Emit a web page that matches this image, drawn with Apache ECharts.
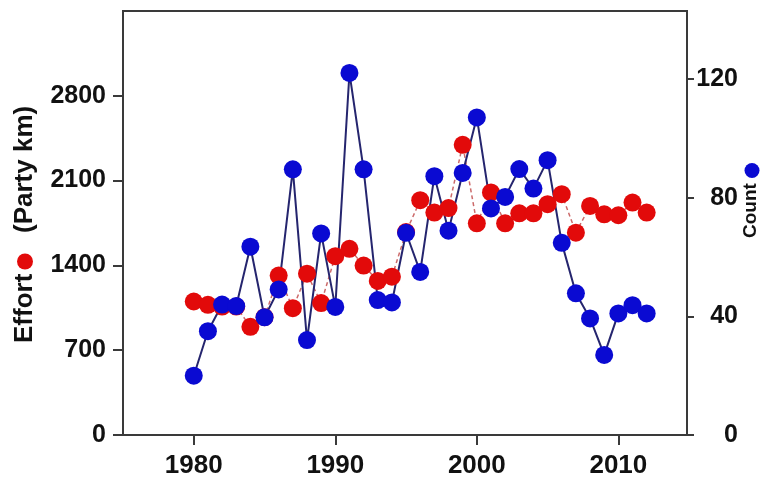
<!DOCTYPE html>
<html>
<head>
<meta charset="utf-8">
<script src="https://cdn.jsdelivr.net/npm/echarts@6/dist/echarts.min.js"></script>
<style>html,body{margin:0;padding:0;background:#fff}#c{width:766px;height:479px}</style>
</head>
<body>
<div id="c"></div>
<script>
const years = [1980,1981,1982,1983,1984,1985,1986,1987,1988,1989,1990,1991,1992,1993,1994,1995,1996,1997,1998,1999,2000,2001,2002,2003,2004,2005,2006,2007,2008,2009,2010,2011,2012];
const effort = [1102,1075,1060,1060,893,973,1316,1047,1332,1089,1476,1537,1399,1272,1307,1675,1938,1836,1873,2395,1747,2002,1747,1830,1830,1905,1988,1670,1891,1822,1814,1919,1836];
const count = [20,35,44,43.5,63.5,39.7,49.1,89.6,32,68,43.2,122.1,89.6,45.5,44.7,68.2,55,87.3,68.9,88.4,107.1,76.4,80.3,89.7,83.1,92.7,64.8,47.8,39.3,27,41,43.8,41];
const yearTicks = [1980,1990,2000,2010];
const effortTicks = [0,700,1400,2100,2800];
const countTicks = [0,40,80,120];

const chart = echarts.init(document.getElementById('c'), null, {renderer:'canvas'});
const axisColor = '#3a3a3a';
const plain = v => String(v);
const labelFont = {fontFamily:'Liberation Sans, Arial, sans-serif', fontWeight:'bold', color:'#111', formatter:plain};
chart.setOption({
  animation:false,
  backgroundColor:'#ffffff',
  grid:{left:123,right:79,top:11,bottom:44,show:true,borderColor:axisColor,borderWidth:2,backgroundColor:'transparent'},
  xAxis:{type:'value',min:1975,max:2014.85,
    axisLine:{show:true,onZero:false,lineStyle:{color:axisColor,width:2}},
    axisTick:{show:true,customValues:yearTicks,length:10,lineStyle:{color:axisColor,width:2}},
    axisLabel:Object.assign({customValues:yearTicks,fontSize:26,margin:18},labelFont),
    splitLine:{show:false}},
  yAxis:[
    {type:'value',position:'left',min:0,max:3500,
      axisLine:{show:true,lineStyle:{color:axisColor,width:2}},
      axisTick:{show:true,customValues:effortTicks,length:10,lineStyle:{color:axisColor,width:2}},
      axisLabel:Object.assign({customValues:effortTicks,fontSize:25,margin:17},labelFont),
      splitLine:{show:false}},
    {type:'value',position:'right',min:0,max:143,
      axisLine:{show:true,lineStyle:{color:axisColor,width:2}},
      axisTick:{show:true,customValues:countTicks,length:7,lineStyle:{color:axisColor,width:2}},
      axisLabel:Object.assign({customValues:countTicks,fontSize:25,margin:51,align:'right'},labelFont),
      splitLine:{show:false}}
  ],
  series:[
    {name:'Effort',type:'line',yAxisIndex:0,
      data:years.map((y,i)=>[y,effort[i]]),
      symbol:'circle',symbolSize:18,
      itemStyle:{color:'#e20a0a'},
      lineStyle:{color:'#cc6a6a',width:1.5,type:[4,3]}},
    {name:'Count',type:'line',yAxisIndex:1,
      data:years.map((y,i)=>[y,count[i]]),
      symbol:'circle',symbolSize:18,
      itemStyle:{color:'#0a0ad2'},
      lineStyle:{color:'#25256e',width:2}}
  ],
  graphic:[
    {type:'text',x:25,y:343,rotation:Math.PI/2,
      style:{text:'Effort',fontSize:26,fontWeight:'bold',fontFamily:'Liberation Sans, Arial, sans-serif',fill:'#111',align:'left',verticalAlign:'middle'}},
    {type:'circle',shape:{cx:25,cy:261.5,r:8},style:{fill:'#e20a0a'}},
    {type:'text',x:25,y:233,rotation:Math.PI/2,
      style:{text:'(Party km)',fontSize:26,fontWeight:'bold',fontFamily:'Liberation Sans, Arial, sans-serif',fill:'#111',align:'left',verticalAlign:'middle'}},
    {type:'text',x:751,y:238,rotation:Math.PI/2,
      style:{text:'Count',fontSize:19,fontWeight:'bold',fontFamily:'Liberation Sans, Arial, sans-serif',fill:'#111',align:'left',verticalAlign:'middle'}},
    {type:'circle',shape:{cx:752,cy:170.5,r:7.5},style:{fill:'#0a0ad2'}}
  ]
});
</script>
</body>
</html>
